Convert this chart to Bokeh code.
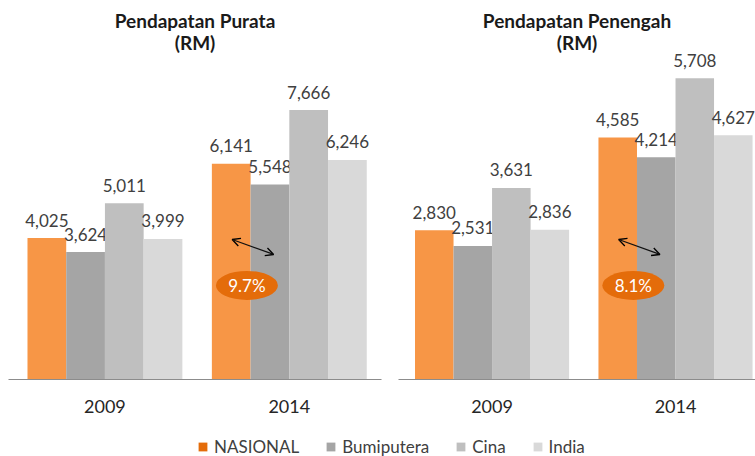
from bokeh.plotting import figure
from bokeh.models import (ColumnDataSource, Range1d, FixedTicker, Title, Arrow,
                          OpenHead, Legend, LegendItem)
from bokeh.layouts import column, row
from bokeh.core.properties import value
from bokeh.embed import file_html
from bokeh.resources import INLINE

# ---------------- data ----------------
years = ["2009", "2014"]
series = ["NASIONAL", "Bumiputera", "Cina", "India"]
purata_nasional = [4025, 6141]
purata_bumiputera = [3624, 5548]
purata_cina = [5011, 7666]
purata_india = [3999, 6246]
penengah_nasional = [2830, 4585]
penengah_bumiputera = [2531, 4214]
penengah_cina = [3631, 5708]
penengah_india = [2836, 4627]
growth_labels = ["9.7%", "8.1%"]
titles = [("Pendapatan Purata", "(RM)"), ("Pendapatan Penengah", "(RM)")]

# ---------------- style ----------------
FONT = "Lato"
bar_colors = ["#F79646", "#A5A5A5", "#BFBFBF", "#D9D9D9"]
legend_colors = ["#E46C0A", "#A5A5A5", "#BFBFBF", "#D9D9D9"]
TEXT = "#404040"
BW = 0.21
FH = 329


def panel(title_lines, values, y_end, x_lo, x_hi, fw, bl, br, growth, toff):
    p = figure(frame_width=fw, frame_height=FH, output_backend="svg",
               toolbar_location=None, y_axis_location=None,
               x_range=Range1d(x_lo, x_hi), y_range=Range1d(0, y_end),
               min_border_left=bl, min_border_right=br,
               min_border_top=50, min_border_bottom=33)
    p.outline_line_color = None
    p.grid.visible = False
    p.background_fill_color = "white"
    p.border_fill_color = "white"

    p.title.text = title_lines[0]
    p.title.align = "center"
    p.title.offset = toff
    p.title.text_font = FONT
    p.title.text_font_size = "19px"
    p.title.text_color = "#1a1a1a"
    p.title.standoff = 0
    t2 = Title(text=title_lines[1], align="center", text_font=FONT,
               text_font_size="19px", text_color="#1a1a1a", standoff=-6,
               offset=toff)
    p.add_layout(t2, "above")

    for j, (name, vals) in enumerate(zip(series, values)):
        xs = [i + (j - 1.5) * BW for i in range(len(years))]
        src = ColumnDataSource(dict(x=xs, top=vals,
                                    lab=[f"{v:,}" for v in vals]))
        p.vbar(x="x", top="top", width=BW, bottom=0, source=src,
               fill_color=bar_colors[j], line_color=None)
        p.text(x="x", y="top", text="lab", source=src, text_align="center",
               text_baseline="alphabetic", y_offset=-18,
               text_font=value(FONT), text_font_size="17px", text_color=TEXT)

    # growth annotation on the latest year
    gx = (len(years) - 1) - BW
    p.ellipse(x=[gx - 0.02], y=[0.286 * y_end], width=62, height=29,
              width_units="screen", height_units="screen",
              fill_color="#E46C0A", line_color=None)
    p.text(x=[gx - 0.02], y=[0.286 * y_end], text=[growth], text_align="center",
           text_baseline="middle", text_font=value(FONT),
           text_font_size="17px", text_color="white")
    p.add_layout(Arrow(start=OpenHead(size=8, line_width=1.3),
                       end=OpenHead(size=8, line_width=1.3),
                       x_start=gx - 0.1, y_start=0.4255 * y_end,
                       x_end=gx + 0.125, y_end=0.38 * y_end,
                       line_width=1.3, line_color="#111111"))

    ax = p.xaxis[0]
    ax.ticker = FixedTicker(ticks=list(range(len(years))))
    ax.major_label_overrides = {i: y for i, y in enumerate(years)}
    ax.axis_line_color = "#8C8C8C"
    ax.axis_line_width = 1.2
    ax.major_tick_line_color = None
    ax.minor_tick_line_color = None
    ax.major_label_standoff = 14
    ax.major_label_text_font = FONT
    ax.major_label_text_font_size = "18px"
    ax.major_label_text_color = "#262626"
    return p


f1 = panel(titles[0],
           [purata_nasional, purata_bumiputera, purata_cina, purata_india],
           9360, -0.523, 1.5, 373, 8, 8, growth_labels[0], -9)
f2 = panel(titles[1],
           [penengah_nasional, penengah_bumiputera, penengah_cina, penengah_india],
           6235, -0.51, 1.436, 357, 9, 0, growth_labels[1], -5)

# legend strip
f3 = figure(width=755, height=44, output_backend="svg", toolbar_location=None,
            x_range=Range1d(0, 1), y_range=Range1d(0, 1),
            min_border=0, x_axis_location=None, y_axis_location=None)
f3.outline_line_color = None
f3.grid.visible = False
items = []
for j, name in enumerate(series):
    r = f3.vbar(x=[0], top=[0], width=0, fill_color=legend_colors[j],
                line_color=None)
    items.append(LegendItem(label=name, renderers=[r]))
leg = Legend(items=items, orientation="horizontal", location=(197, 2),
             glyph_width=11, glyph_height=11, label_standoff=6, spacing=26,
             label_height=16, padding=0, margin=0, border_line_color=None,
             background_fill_alpha=0, label_text_font=FONT,
             label_text_font_size="17px", label_text_color=TEXT)
f3.add_layout(leg, "center")

layout = column(row(f1, f2, spacing=0), f3, spacing=0)
open("out.html", "w").write(file_html(layout, INLINE))
